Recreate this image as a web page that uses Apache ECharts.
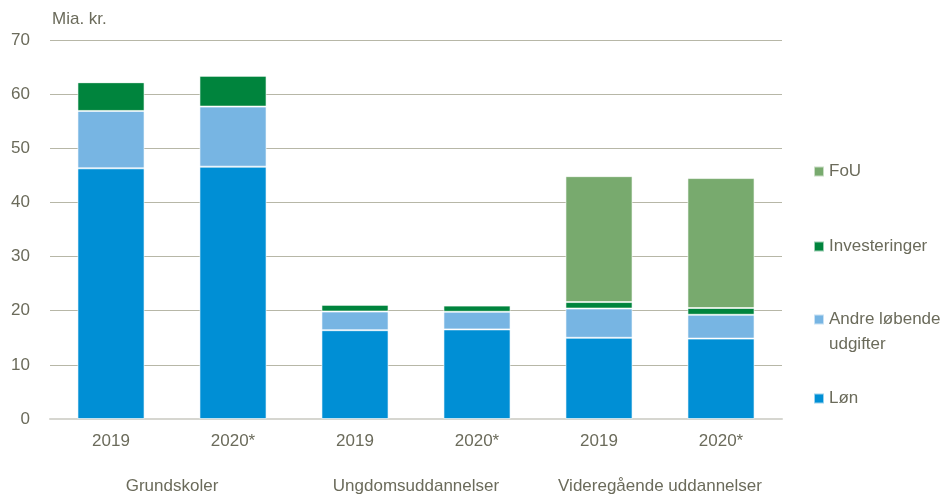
<!DOCTYPE html>
<html>
<head>
<meta charset="utf-8">
<script src="https://cdn.jsdelivr.net/npm/echarts@6/dist/echarts.min.js"></script>
<style>
  html, body { margin: 0; padding: 0; background: #fff; }
  #chart { width: 944px; height: 495px; }
</style>
</head>
<body>
<div id="chart"></div>
<script>
// data (Mia. kr.)
var years = ["2019", "2020*", "2019", "2020*", "2019", "2020*"];
var groups = ["Grundskoler", "Ungdomsuddannelser", "Videregående uddannelser"];
var loen = [46.3, 46.6, 16.4, 16.55, 15.0, 14.85];
var andre = [10.6, 11.1, 3.45, 3.25, 5.4, 4.4];
var invest = [5.3, 5.7, 1.25, 1.15, 1.2, 1.25];
var fou = [0, 0, 0, 0, 23.25, 24.0];

var textColor = "#6b6b5b";
var font = "'Liberation Sans', Arial, sans-serif";

function barSeries(name, data, color) {
  return {
    name: name,
    type: "bar",
    stack: "total",
    data: data,
    barCategoryGap: "45%",
    itemStyle: { color: color, borderColor: "rgba(255,255,255,0.6)", borderWidth: 1 },
    emphasis: { disabled: true },
  };
}

// one legend per entry so each can sit where the original has it
function legendItem(name, top, fmt) {
  return {
    data: [name],
    orient: "vertical",
    left: 813,
    top: top,
    padding: 0,
    itemWidth: 10,
    itemHeight: 10,
    itemGap: 0,
    icon: "rect",
    selectedMode: false,
    formatter: fmt,
    textStyle: { color: textColor, fontSize: 17, fontFamily: font, lineHeight: 25 },
  };
}

var chart = echarts.init(document.getElementById("chart"));
chart.setOption({
  animation: false,
  grid: { left: 50, right: 162, top: 40, bottom: 73 },
  legend: [
    legendItem("FoU", 159),
    legendItem("Investeringer", 234),
    // empty first line keeps the square level with "Andre løbende"
    legendItem("Andre løbende\nudgifter", 282, function (n) { return " \n" + n; }),
    legendItem("Løn", 386),
  ],
  xAxis: [
    {
      type: "category",
      data: years,
      axisLine: { lineStyle: { color: "#d6d6d0", width: 2 } },
      axisTick: { show: false },
      axisLabel: { color: textColor, fontSize: 17, fontFamily: font, margin: 14, interval: 0 },
    },
    {
      type: "category",
      data: groups,
      position: "bottom",
      offset: 45,
      axisLine: { show: false },
      axisTick: { show: false },
      axisLabel: { color: textColor, fontSize: 17, fontFamily: font, margin: 14, interval: 0, hideOverlap: false },
    },
  ],
  yAxis: {
    type: "value",
    min: 0,
    max: 70,
    interval: 10,
    name: "Mia. kr.",
    nameLocation: "end",
    nameGap: 12,
    nameTextStyle: { color: textColor, fontSize: 17, fontFamily: font, align: "left", padding: [0, 0, 0, 2] },
    axisLine: { show: false },
    axisTick: { show: false },
    axisLabel: { color: textColor, fontSize: 17, fontFamily: font, margin: 20 },
    splitLine: { lineStyle: { color: "#b7b7a7", width: 1 } },
  },
  series: [
    barSeries("Løn", loen, "#008fd5"),
    barSeries("Andre løbende\nudgifter", andre, "#77b5e3"),
    barSeries("Investeringer", invest, "#00843d"),
    barSeries("FoU", fou, "#78aa6e"),
  ],
});
</script>
</body>
</html>
